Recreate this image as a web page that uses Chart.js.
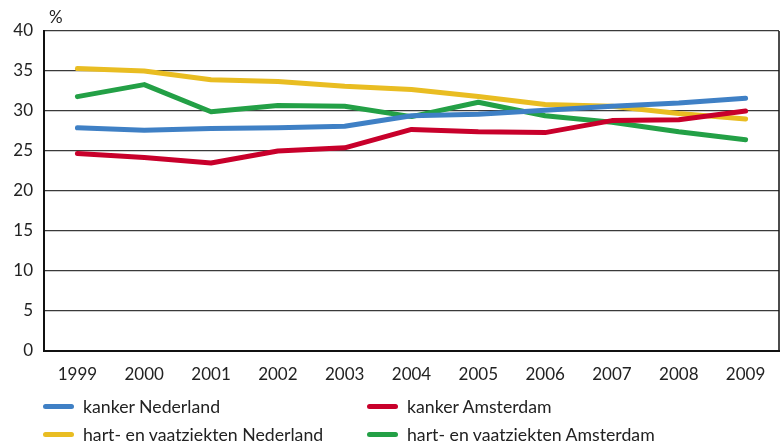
<!DOCTYPE html>
<html>
<head>
<meta charset="utf-8">
<script src="https://cdn.jsdelivr.net/npm/chart.js@4"></script>
<style>
  html, body { margin: 0; padding: 0; background: #fff; }
  #wrap { position: relative; width: 782px; height: 447px; }
  #legend { position: absolute; left: 43px; top: 396px; width: 720px;
            font-family: Lato, "Open Sans", sans-serif; font-size: 17.7px; color: #222; }
  .item { position: absolute; display: flex; align-items: center; white-space: nowrap; }
  .swatch { width: 31px; height: 5px; border-radius: 3px; margin-right: 9px; }
</style>
</head>
<body>
<div id="wrap">
  <canvas id="chart" width="782" height="447"></canvas>
  <div id="legend"></div>
</div>
<script>
  // data
  const years = ['1999', '2000', '2001', '2002', '2003', '2004', '2005', '2006', '2007', '2008', '2009'];
  const kankerNL = [27.9, 27.6, 27.8, 27.9, 28.1, 29.4, 29.6, 30.1, 30.6, 31.0, 31.6];
  const kankerAdam = [24.7, 24.2, 23.5, 25.0, 25.4, 27.7, 27.4, 27.3, 28.8, 28.9, 30.0];
  const hvNL = [35.3, 35.0, 33.9, 33.7, 33.1, 32.7, 31.8, 30.8, 30.6, 29.7, 29.0];
  const hvAdam = [31.8, 33.3, 29.9, 30.7, 30.6, 29.3, 31.1, 29.4, 28.6, 27.4, 26.4];
  const yTicks = [0, 5, 10, 15, 20, 25, 30, 35, 40];

  const series = [
    { label: 'kanker Nederland', data: kankerNL, color: '#3f80c5' },
    { label: 'kanker Amsterdam', data: kankerAdam, color: '#c8002b' },
    { label: 'hart- en vaatziekten Nederland', data: hvNL, color: '#e9bd22' },
    { label: 'hart- en vaatziekten Amsterdam', data: hvAdam, color: '#23a046' },
  ];

  // right border + "%" unit label
  const frame = {
    id: 'frame',
    afterDraw(chart) {
      const { ctx, chartArea: a } = chart;
      ctx.save();
      ctx.strokeStyle = '#111';
      ctx.lineWidth = 1.5;
      ctx.beginPath();
      ctx.moveTo(a.right, a.top);
      ctx.lineTo(a.right, a.bottom);
      ctx.stroke();
      ctx.fillStyle = '#222';
      ctx.font = '17px Lato, "Open Sans", sans-serif';
      ctx.textBaseline = 'middle';
      ctx.fillText('%', a.left + 5, a.top - 13);
      ctx.restore();
    },
  };

  const chart = new Chart(document.getElementById('chart'), {
    type: 'line',
    data: {
      labels: years,
      datasets: series.map((s) => ({
        label: s.label,
        data: s.data,
        borderColor: s.color,
        backgroundColor: s.color,
        borderWidth: 5,
        borderCapStyle: 'round',
        borderJoinStyle: 'round',
        pointRadius: 0,
        tension: 0,
      })),
    },
    options: {
      responsive: false,
      animation: false,
      layout: { padding: { left: 0, right: 3, top: 31, bottom: 56 } },
      plugins: {
        legend: { display: false },
        tooltip: { enabled: false },
      },
      scales: {
        x: {
          offset: true,
          grid: { display: false, drawTicks: false },
          border: { display: true, color: '#111', width: 2 },
          ticks: {
            color: '#222',
            font: { family: 'Lato, "Open Sans", sans-serif', size: 17 },
            padding: 13,
            maxRotation: 0,
          },
          afterFit: (scale) => { scale.height = 40; },
        },
        y: {
          min: 0,
          max: 40,
          afterBuildTicks: (scale) => { scale.ticks = yTicks.map((v) => ({ value: v })); },
          grid: { color: '#3a3a3a', lineWidth: 1.3, drawTicks: false },
          border: { display: true, color: '#111', width: 2 },
          ticks: {
            color: '#222',
            font: { family: 'Lato, "Open Sans", sans-serif', size: 17 },
            padding: 11,
          },
          afterFit: (scale) => { scale.width = 44; },
        },
      },
    },
    plugins: [frame],
  });

  // HTML legend, two columns
  const legend = document.getElementById('legend');
  chart.data.datasets.forEach((ds, i) => {
    const item = document.createElement('div');
    item.className = 'item';
    item.style.left = (i % 2 === 0 ? 0 : 324) + 'px';
    item.style.top = (i < 2 ? 0 : 28) + 'px';
    const sw = document.createElement('span');
    sw.className = 'swatch';
    sw.style.background = ds.borderColor;
    const txt = document.createElement('span');
    txt.textContent = ds.label;
    item.appendChild(sw);
    item.appendChild(txt);
    legend.appendChild(item);
  });
</script>
</body>
</html>
